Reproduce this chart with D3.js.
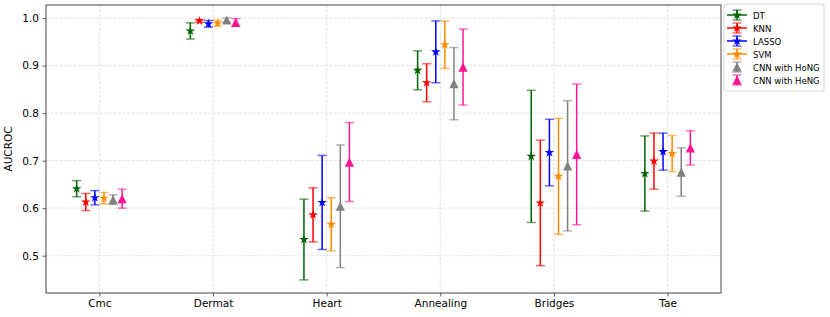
<!DOCTYPE html>
<html>
<head>
<meta charset="utf-8">
<script src="https://cdn.jsdelivr.net/npm/d3@7"></script>
<style>
	body { margin: 0; background: #fff; }
	text { font-family: "DejaVu Sans", sans-serif; }
</style>
</head>
<body>
<div id="chart"></div>
<script>
const datasets = ["Cmc", "Dermat", "Heart", "Annealing", "Bridges", "Tae"];
const models = ["DT", "KNN", "LASSO", "SVM", "CNN with HoNG", "CNN with HeNG"];
const colors = ["#006400", "#ff0000", "#0000ff", "#ff8c00", "#808080", "#ff1493"];
const markers = ["star", "star", "star", "star", "triangle", "triangle"];
const offsets = [-0.2, -0.12, -0.04, 0.04, 0.12, 0.2];

// mean AUCROC per dataset, one array per model
const dtMean    = [0.641, 0.973, 0.534, 0.890, 0.709, 0.673];
const knnMean   = [0.613, 0.994, 0.586, 0.864, 0.611, 0.699];
const lassoMean = [0.622, 0.988, 0.612, 0.929, 0.717, 0.719];
const svmMean   = [0.621, 0.989, 0.566, 0.944, 0.667, 0.715];
const hongMean  = [0.618, 0.996, 0.604, 0.862, 0.689, 0.676];
const hengMean  = [0.620, 0.991, 0.697, 0.897, 0.713, 0.727];

// std per dataset
const dtErr    = [0.017, 0.017, 0.085, 0.041, 0.139, 0.079];
const knnErr   = [0.018, 0.003, 0.057, 0.040, 0.132, 0.059];
const lassoErr = [0.015, 0.007, 0.099, 0.065, 0.070, 0.039];
const svmErr   = [0.012, 0.006, 0.056, 0.050, 0.122, 0.038];
const hongErr  = [0.010, 0.004, 0.129, 0.076, 0.137, 0.051];
const hengErr  = [0.020, 0.008, 0.083, 0.080, 0.148, 0.036];

const yTicks = [0.5, 0.6, 0.7, 0.8, 0.9, 1.0];

const means = [dtMean, knnMean, lassoMean, svmMean, hongMean, hengMean];
const errs = [dtErr, knnErr, lassoErr, svmErr, hongErr, hengErr];

const W = 830, H = 317;
const MARGIN = { TOP: 5, RIGHT: 109, BOTTOM: 24, LEFT: 46 };
const WIDTH = W - MARGIN.LEFT - MARGIN.RIGHT;
const HEIGHT = H - MARGIN.TOP - MARGIN.BOTTOM;
const CAP = 4.5;

let points = [];
models.forEach((m, s) => {
	datasets.forEach((d, i) => {
		points.push({
			model: m, s: s, x: i + offsets[s],
			y: means[s][i], err: errs[s][i],
			color: colors[s], marker: markers[s],
		});
	});
});

// matplotlib style 5% margins
let xMin = d3.min(points, (d) => d.x), xMax = d3.max(points, (d) => d.x);
let yMin = d3.min(points, (d) => d.y - d.err), yMax = d3.max(points, (d) => d.y + d.err);
let xPad = (xMax - xMin) * 0.05, yPad = (yMax - yMin) * 0.05;

let xScale = d3.scaleLinear().domain([xMin - xPad, xMax + xPad]).range([0, WIDTH]);
let yScale = d3.scaleLinear().domain([yMin - yPad, yMax + yPad]).range([HEIGHT, 0]);

function starPath(r) {
	let ri = r * 0.381966, p = [];
	for (let k = 0; k < 10; k++) {
		let a = -Math.PI / 2 + k * Math.PI / 5;
		let rr = k % 2 ? ri : r;
		p.push([rr * Math.cos(a), rr * Math.sin(a)]);
	}
	return "M" + p.map((q) => q.join(",")).join("L") + "Z";
}
function triPath(r) {
	return `M0,${-r}L${-r},${r}L${r},${r}Z`;
}
function markerPath(type) {
	return type === "star" ? starPath(5) : triPath(4.6);
}

let svg = d3.select("#chart").append("svg")
	.attr("width", W).attr("height", H)
	.append("g")
	.attr("transform", `translate(${MARGIN.LEFT}, ${MARGIN.TOP})`);

// grid
svg.append("g").selectAll("line").data(yTicks).join("line")
	.attr("x1", 0).attr("x2", WIDTH)
	.attr("y1", (d) => yScale(d)).attr("y2", (d) => yScale(d))
	.attr("stroke", "#b0b0b0").attr("stroke-opacity", 0.45)
	.attr("stroke-dasharray", "3,1.5").attr("stroke-width", 0.8);
svg.append("g").selectAll("line").data(d3.range(datasets.length)).join("line")
	.attr("y1", 0).attr("y2", HEIGHT)
	.attr("x1", (d) => xScale(d)).attr("x2", (d) => xScale(d))
	.attr("stroke", "#b0b0b0").attr("stroke-opacity", 0.45)
	.attr("stroke-dasharray", "3,1.5").attr("stroke-width", 0.8);

// axes
let xAxisCall = d3.axisBottom(xScale).tickValues(d3.range(datasets.length))
	.tickFormat((d) => datasets[d]).tickSize(3.5).tickPadding(3.5);
let xAxisGroup = svg.append("g").attr("transform", `translate(0, ${HEIGHT})`).call(xAxisCall);

let yAxisCall = d3.axisLeft(yScale).tickValues(yTicks)
	.tickFormat(d3.format(".1f")).tickSize(3.5).tickPadding(3.5);
let yAxisGroup = svg.append("g").call(yAxisCall);

[xAxisGroup, yAxisGroup].forEach((g) => {
	g.select(".domain").remove();
	g.selectAll(".tick line").attr("stroke", "#333").attr("stroke-width", 0.8);
	g.selectAll(".tick text").attr("fill", "#000").style("font-size", "10.5px")
		.style("font-family", "DejaVu Sans");
});

svg.append("rect").attr("x", 0).attr("y", 0).attr("width", WIDTH).attr("height", HEIGHT)
	.attr("fill", "none").attr("stroke", "#444").attr("stroke-width", 1);

svg.append("text")
	.attr("transform", `translate(${-34}, ${HEIGHT / 2}) rotate(-90)`)
	.attr("text-anchor", "middle")
	.style("font-size", "10.5px")
	.text("AUCROC");

// error bars
let bars = svg.append("g").selectAll("g").data(points).join("g")
	.attr("transform", (d) => `translate(${xScale(d.x)}, 0)`);
bars.append("line")
	.attr("y1", (d) => yScale(d.y - d.err)).attr("y2", (d) => yScale(d.y + d.err))
	.attr("stroke", (d) => d.color).attr("stroke-width", 1.5);
bars.selectAll(".cap").data((d) => [d.y - d.err, d.y + d.err].map((v) => ({ v, c: d.color })))
	.join("line").attr("class", "cap")
	.attr("x1", -CAP).attr("x2", CAP)
	.attr("y1", (d) => yScale(d.v)).attr("y2", (d) => yScale(d.v))
	.attr("stroke", (d) => d.c).attr("stroke-width", 1.5).attr("stroke-opacity", 0.6);
bars.append("path")
	.attr("transform", (d) => `translate(0, ${yScale(d.y)})`)
	.attr("d", (d) => markerPath(d.marker))
	.attr("fill", (d) => d.color);

// legend
let legend = d3.select("svg").append("g").attr("transform", "translate(724, 4)");
legend.append("rect").attr("width", 100).attr("height", 87).attr("rx", 2)
	.attr("fill", "#fff").attr("stroke", "#ccc").attr("stroke-width", 0.8);
let items = legend.selectAll(".item").data(models).join("g").attr("class", "item")
	.attr("transform", (d, i) => `translate(0, ${11 + i * 13})`);
items.each(function (d, i) {
	let g = d3.select(this), c = colors[i], cx = 13;
	if (markers[i] === "star") {
		g.append("line").attr("x1", 3).attr("x2", 23).attr("stroke", c).attr("stroke-width", 1.5);
	}
	g.append("line").attr("x1", cx).attr("x2", cx).attr("y1", -5).attr("y2", 5)
		.attr("stroke", c).attr("stroke-width", 1.5);
	[-5, 5].forEach((yy) => g.append("line").attr("x1", cx - CAP).attr("x2", cx + CAP)
		.attr("y1", yy).attr("y2", yy).attr("stroke", c).attr("stroke-width", 1.5).attr("stroke-opacity", 0.6));
	g.append("path").attr("transform", `translate(${cx}, 0)`).attr("d", markerPath(markers[i])).attr("fill", c);
	g.append("text").attr("x", 29).attr("y", 3.5).style("font-size", "8.5px").text(d);
});
</script>
</body>
</html>
